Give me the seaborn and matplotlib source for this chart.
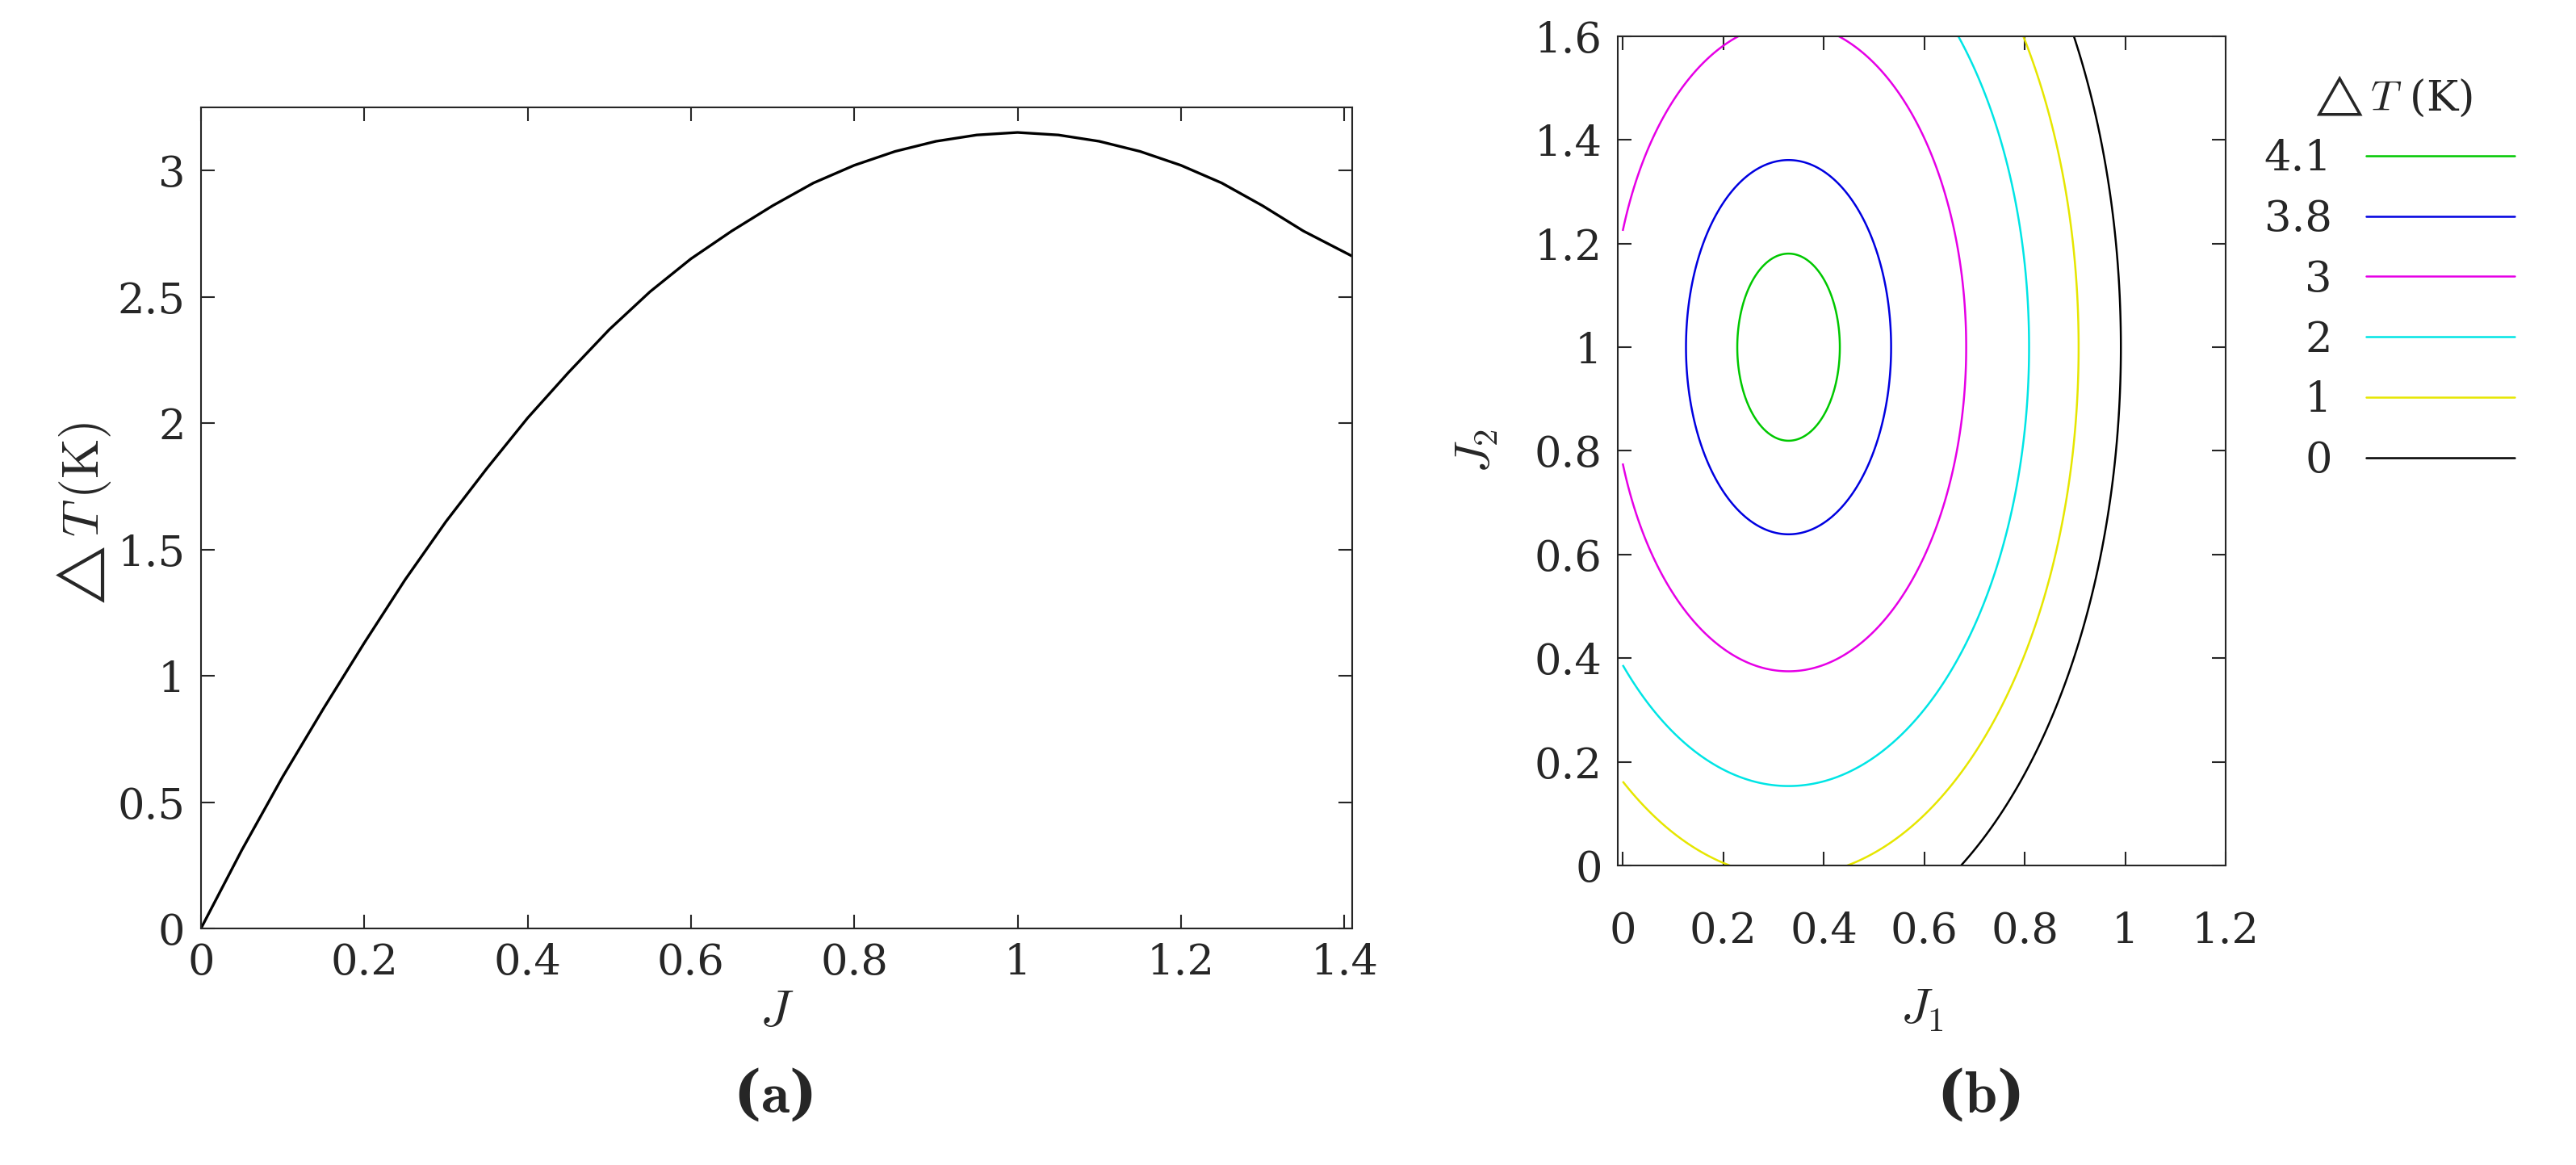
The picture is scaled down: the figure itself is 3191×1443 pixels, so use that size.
import numpy as np
import matplotlib
matplotlib.use("Agg")
import matplotlib.pyplot as plt
import seaborn as sns
from matplotlib.lines import Line2D

sns.set_style("ticks")
plt.rcParams['font.family'] = ['DejaVu Serif']
plt.rcParams['mathtext.fontset'] = 'cm'
plt.rcParams['xtick.direction'] = 'in'
plt.rcParams['ytick.direction'] = 'in'

# Panel (a) data
J = [0, 0.05, 0.1, 0.15, 0.2, 0.25, 0.3, 0.35, 0.4, 0.45, 0.5, 0.55, 0.6, 0.65, 0.7,
     0.75, 0.8, 0.85, 0.9, 0.95, 1.0, 1.05, 1.1, 1.15, 1.2, 1.25, 1.3, 1.35, 1.41]
dT = [0, 0.31, 0.60, 0.87, 1.13, 1.38, 1.61, 1.82, 2.02, 2.20, 2.37, 2.52, 2.65, 2.76, 2.86,
      2.95, 3.02, 3.075, 3.115, 3.14, 3.15, 3.14, 3.115, 3.075, 3.02, 2.95, 2.86, 2.76, 2.66]

# Panel (b) contour field parameters
T_max = 4.2
J1_center = 0.33
J2_center = 1.0
curv_J1 = 9.6
curv_J2 = 3.07
levels = [0, 1, 2, 3, 3.8, 4.1]
level_labels = ['0', '1', '2', '3', '3.8', '4.1']
level_colors = ['black', '#e6e600', '#00e5e5', '#e600e6', '#0000e0', '#00c800']

fig = plt.figure(figsize=(31.91, 14.43), dpi=100)
fs = 38

ax1 = fig.add_axes([0.078, 0.203, 0.447, 0.705])
sns.lineplot(x=J, y=dT, ax=ax1, color='black', linewidth=2.4)
ax1.set_xlim(0, 1.41)
ax1.set_ylim(0, 3.25)
ax1.set_xticks([0, 0.2, 0.4, 0.6, 0.8, 1, 1.2, 1.4])
ax1.set_xticklabels(['0', '0.2', '0.4', '0.6', '0.8', '1', '1.2', '1.4'])
ax1.set_yticks([0, 0.5, 1, 1.5, 2, 2.5, 3])
ax1.set_yticklabels(['0', '0.5', '1', '1.5', '2', '2.5', '3'])
ax1.set_xlabel(r'$J$', fontsize=fs + 8)
ax1.set_ylabel(r'$\triangle T\,(\mathrm{K})$', fontsize=fs + 8)
ax1.tick_params(labelsize=fs, top=True, right=True, length=12, width=1.5)
ax1.tick_params(axis='x', pad=12)
ax1.tick_params(axis='y', pad=14)
for s in ax1.spines.values():
    s.set_linewidth(1.5)
fig.text(0.30, 0.045, r'($\mathbf{a}$)', ha='center', fontsize=fs + 14, fontweight='bold')

ax2 = fig.add_axes([0.628, 0.257, 0.236, 0.712])
g1 = np.linspace(0, 1.2, 400)
g2 = np.linspace(0, 1.6, 400)
G1, G2 = np.meshgrid(g1, g2)
Z = T_max - curv_J1 * (G1 - J1_center) ** 2 - curv_J2 * (G2 - J2_center) ** 2
ax2.contour(G1, G2, Z, levels=levels, colors=level_colors, linewidths=1.8)
ax2.set_xlim(-0.01, 1.2)
ax2.set_ylim(0, 1.6)
ax2.set_xticks([0, 0.2, 0.4, 0.6, 0.8, 1, 1.2])
ax2.set_xticklabels(['0', '0.2', '0.4', '0.6', '0.8', '1', '1.2'])
ax2.set_yticks([0, 0.2, 0.4, 0.6, 0.8, 1, 1.2, 1.4, 1.6])
ax2.set_yticklabels(['0', '0.2', '0.4', '0.6', '0.8', '1', '1.2', '1.4', '1.6'])
ax2.set_xlabel(r'$J_1$', fontsize=fs + 6, labelpad=30)
ax2.set_ylabel(r'$J_2$', fontsize=fs + 6, labelpad=30)
ax2.tick_params(labelsize=fs, top=True, right=True, length=12, width=1.5)
ax2.tick_params(axis='x', pad=40)
ax2.tick_params(axis='y', pad=14)
for s in ax2.spines.values():
    s.set_linewidth(1.5)

handles = [Line2D([0], [0], color=c, lw=1.8) for c in level_colors[::-1]]
leg = ax2.legend(handles, level_labels[::-1], title=r'$\triangle T$ (K)', loc='upper left',
                 bbox_to_anchor=(1.0, 1.0), frameon=False, markerfirst=False,
                 fontsize=fs, title_fontsize=fs, handlelength=3.5, labelspacing=0.45)
for t in leg.get_texts():
    t.set_ha('right')
fig.text(0.768, 0.045, r'($\mathbf{b}$)', ha='center', fontsize=fs + 14, fontweight='bold')

fig.savefig('out.png', dpi=100)
